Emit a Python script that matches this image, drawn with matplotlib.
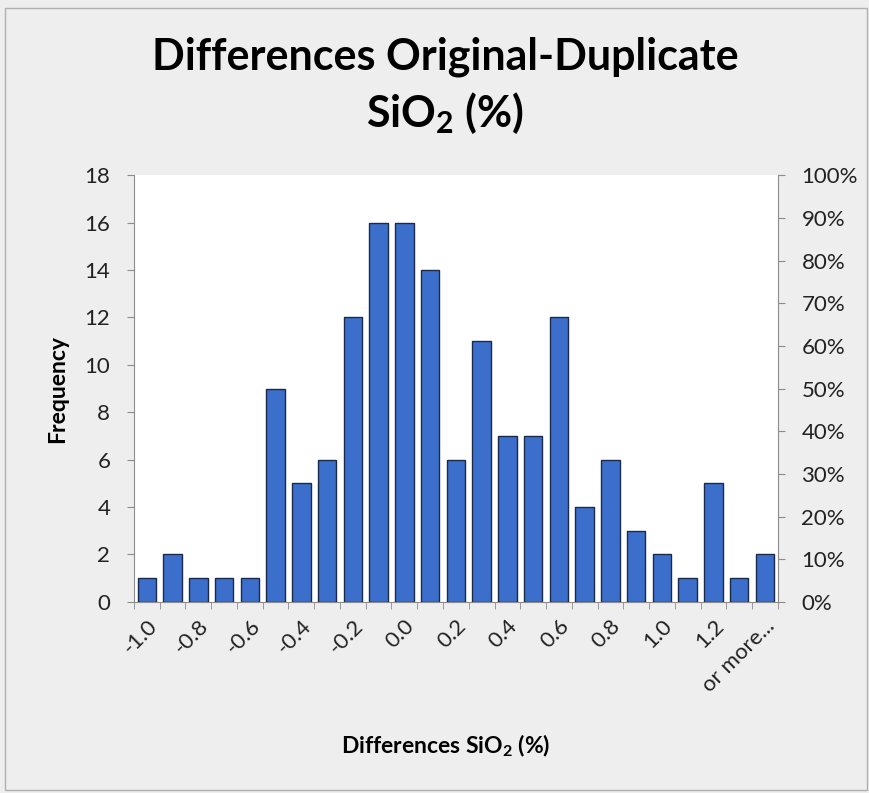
import matplotlib
matplotlib.use("Agg")
import matplotlib.pyplot as plt
from matplotlib.ticker import PercentFormatter, FixedLocator

plt.rcParams['font.family'] = ['Lato', 'DejaVu Sans']
plt.rcParams['mathtext.default'] = 'regular'

# histogram bins (upper edges) and counts
bins = ['-1.0', '-0.9', '-0.8', '-0.7', '-0.6', '-0.5', '-0.4', '-0.3', '-0.2', '-0.1',
        '0.0', '0.1', '0.2', '0.3', '0.4', '0.5', '0.6', '0.7', '0.8', '0.9',
        '1.0', '1.1', '1.2', '1.3', 'or more...']
freq = [1, 2, 1, 1, 1, 9, 5, 6, 12, 16, 16, 14, 6, 11, 7, 7, 12, 4, 6, 3, 2, 1, 5, 1, 2]

bg = '#eeeeee'
axcol = '#8c8c8c'
txt = '#222222'

fig = plt.figure(figsize=(8.7, 7.93), dpi=100, facecolor=bg)
ax = fig.add_axes([0.154, 0.241, 0.740, 0.538])
ax.set_facecolor('white')

x = list(range(len(bins)))
ax.bar(x, freq, width=0.72, color='#3b6fcb', edgecolor='#1c2a4a', linewidth=1.0, zorder=3)

ax.set_xlim(-0.5, len(bins) - 0.5)
ax.set_ylim(0, 18)
ax.set_yticks(range(0, 19, 2))

# labels every other bin, tick marks at bin boundaries
ax.set_xticks(x[::2])
ax.set_xticklabels(bins[::2], rotation=45, ha='right', rotation_mode='anchor')
ax.xaxis.set_minor_locator(FixedLocator([i - 0.5 for i in range(len(bins) + 1)]))
ax.tick_params(axis='x', which='major', length=0, pad=10, labelsize=16, colors=txt)
ax.tick_params(axis='x', which='minor', length=5, color=axcol, direction='out')
ax.tick_params(axis='y', length=5, color=axcol, labelsize=16, labelcolor=txt, pad=12)

for s in ['top', 'right']:
    ax.spines[s].set_visible(False)
for s in ['left', 'bottom']:
    ax.spines[s].set_color(axcol)

ax2 = ax.twinx()
ax2.set_ylim(0, 1)
ax2.set_yticks([i / 10 for i in range(11)])
ax2.yaxis.set_major_formatter(PercentFormatter(1.0, decimals=0))
ax2.tick_params(axis='y', length=5, color=axcol, labelsize=16, labelcolor=txt, pad=12)
for s in ['top', 'left', 'bottom']:
    ax2.spines[s].set_visible(False)
ax2.spines['right'].set_color(axcol)

ax.set_ylabel('Frequency', fontsize=16.5, fontweight='bold', labelpad=12)

fig.text(0.512, 0.928, 'Differences Original-Duplicate', ha='center', va='center',
         fontsize=31, fontweight='bold')
fig.text(0.512, 0.857, 'SiO$_2$ (%)', ha='center', va='center',
         fontsize=31, fontweight='bold')
fig.text(0.512, 0.06, 'Differences SiO$_2$ (%)', ha='center', va='center',
         fontsize=16.5, fontweight='bold')

fig.patches.append(plt.Rectangle((0.006, 0.004), 0.99, 0.986, transform=fig.transFigure,
                                 fill=False, edgecolor='#b0b0b0', linewidth=1))

fig.savefig('out.png', dpi=100, facecolor=bg)
